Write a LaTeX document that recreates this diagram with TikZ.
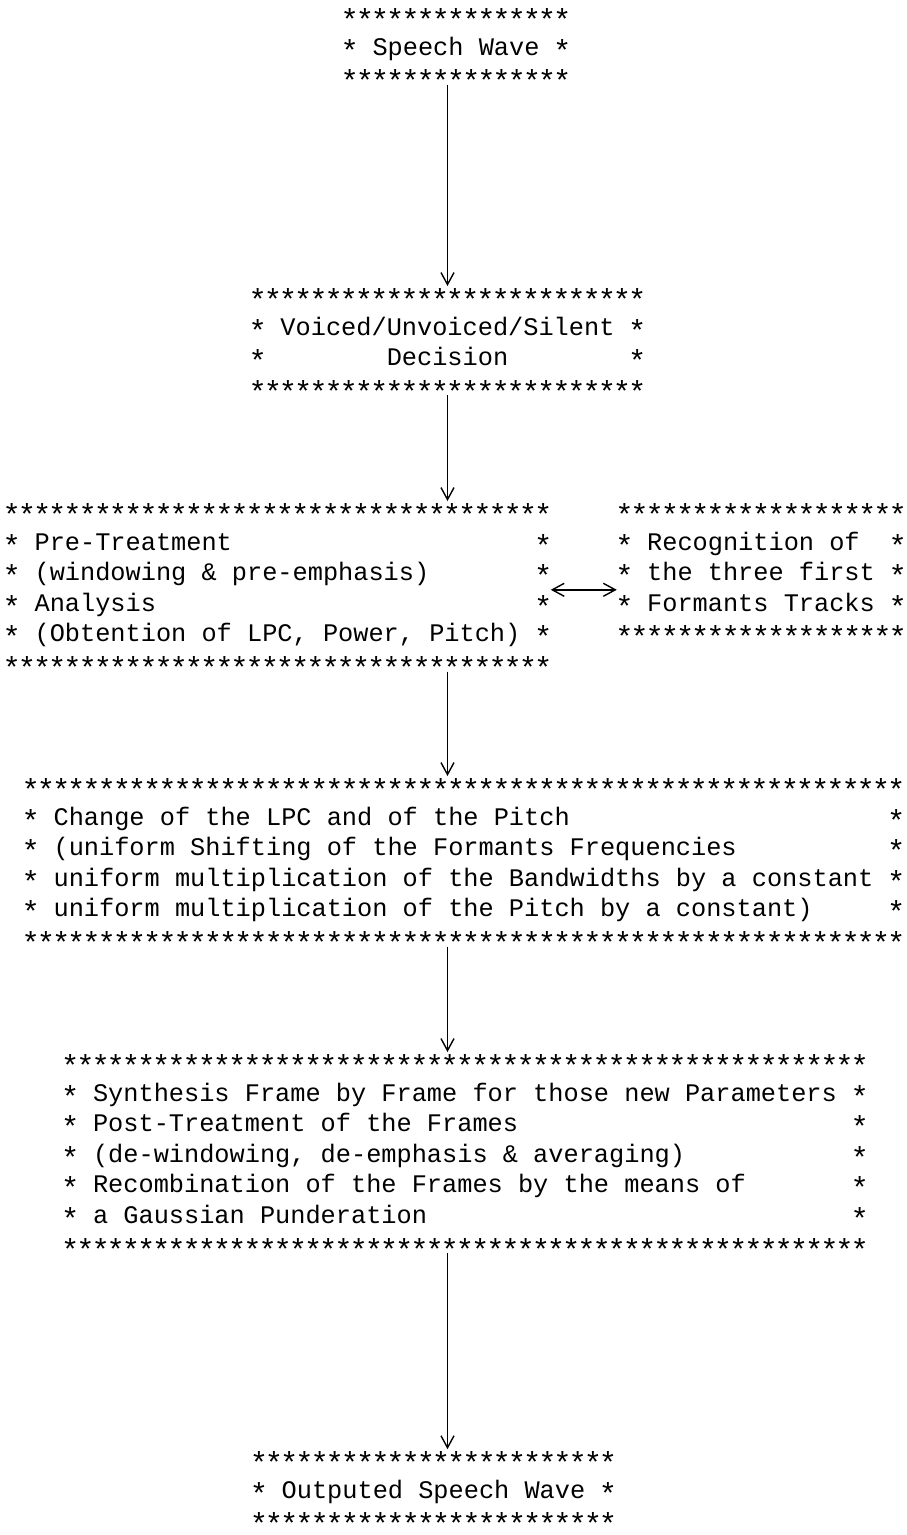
\documentclass[tikz,border=0pt]{standalone}
\usepackage{fontspec}
\newfontfamily\typer{Liberation Mono}
\usetikzlibrary{positioning, arrows.meta}

\newcommand{\typefont}{\typer\fontsize{25.3pt}{30.6pt}\selectfont\frenchspacing}
\newlength{\cw}
\settowidth{\cw}{\typefont *}
\newcommand{\st}{\makebox[\cw]{\raisebox{-6pt}{\scalebox{1.2}{*}}}}
\newcommand{\starrow}[1]{\foreach \k in {1,...,#1}{\st}}

\tikzset{
  starbox/.style={inner sep=0pt, outer sep=0pt, align=left, font=\typefont, execute at begin node={\spaceskip=\cw\relax\strut}, execute at end node=\strut},
  flow/.style={line width=1.4pt, shorten <=-10pt, shorten >=-3pt}
}

\begin{document}
\begin{tikzpicture}[x=1pt, y=1pt, >={Straight Barb[length=12pt,width=13pt]}]
\useasboundingbox (0,0) rectangle (907,-1535);

\node[starbox, text width=15\cw, anchor=north] (speech) at (456,-3) {\starrow{15}\\\st{} Speech Wave \st\\\starrow{15}};
\node[starbox, text width=26\cw, below=188.2pt of speech, xshift=-8.5pt] (vuv) {\starrow{26}\\\st{} Voiced/Unvoiced/Silent \st\\\st\hspace{8\cw}Decision\hfill\st\\\starrow{26}};
\node[starbox, text width=36\cw, below=92.6pt of vuv, xshift=-170pt] (pre) {\starrow{36}\\\st{} Pre-Treatment\hfill\st\\\st{} (windowing \& pre-emphasis)\hfill\st\\\st{} Analysis\hfill\st\\\st{} (Obtention of LPC, Power, Pitch) \st\\\starrow{36}};
\node[starbox, text width=19\cw, right=66pt of pre.north east, anchor=north west] (recog) {\starrow{19}\\\st{} Recognition of\hfill\st\\\st{} the three first \st\\\st{} Formants Tracks \st\\\starrow{19}};
\node[starbox, text width=58\cw, below=91.4pt of pre, xshift=186pt] (change) {\starrow{58}\\\st{} Change of the LPC and of the Pitch\hfill\st\\\st{} (uniform Shifting of the Formants Frequencies\hfill\st\\\st{} uniform multiplication of the Bandwidths by a constant \st\\\st{} uniform multiplication of the Pitch by a constant)\hfill\st\\\starrow{58}};
\node[starbox, text width=53\cw, below=92.4pt of change, xshift=1.5pt] (synth) {\starrow{53}\\\st{} Synthesis Frame by Frame for those new Parameters \st\\\st{} Post-Treatment of the Frames\hfill\st\\\st{} (de-windowing, de-emphasis \& averaging)\hfill\st\\\st{} Recombination of the Frames by the means of\hfill\st\\\st{} a Gaussian Punderation\hfill\st\\\starrow{53}};
\node[starbox, execute at end node={}, text width=24\cw, below=183pt of synth, xshift=-31.5pt] (out) {\starrow{24}\\\st{} Outputed Speech Wave \st\\\starrow{24}};

\draw[flow, ->] (speech.south -| vuv) -- (vuv.north);
\draw[flow, ->] (vuv.south) -- (vuv.south |- pre.north);
\draw[flow, ->] (pre.south -| vuv) -- (change.north -| vuv);
\draw[flow, ->] (change.south -| vuv) -- (synth.north -| vuv);
\draw[flow, ->] (synth.south -| vuv) -- (out.north -| vuv);
\draw[line width=1.4pt, <->] (pre.east) -- (pre.east -| recog.west);
\end{tikzpicture}
\end{document}
